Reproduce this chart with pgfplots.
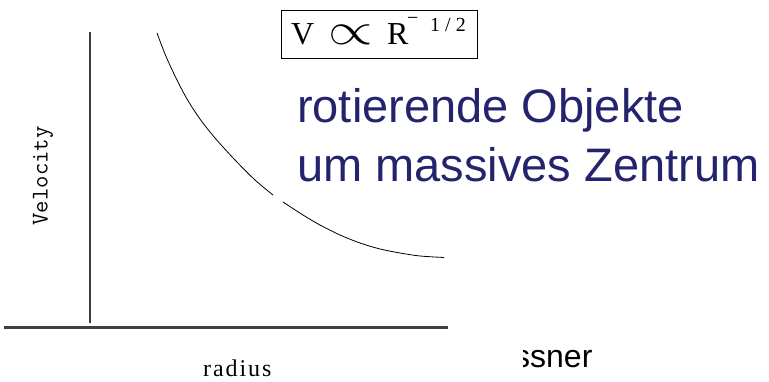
\documentclass[border=0pt]{standalone}
\usepackage{fontspec}
\setmainfont{Liberation Serif}
\newfontfamily\sansfont{Liberation Sans}
\newfontfamily\spacedserif{Liberation Serif}[LetterSpace=8]
\usepackage{graphicx}
\usepackage{pgfplots}
\pgfplotsset{compat=1.18}
\definecolor{titleblue}{RGB}{36,36,110}
\definecolor{axisgray}{RGB}{62,62,62}

\begin{document}
\begin{tikzpicture}
\begin{axis}[
  width=769pt, height=382pt, scale only axis,
  xmin=0, xmax=769, ymin=0, ymax=382,
  hide axis, clip=false,
]
% hand-drawn axes of the sketch
\addplot[axisgray, line width=1.6pt] coordinates {(90,350) (90,59)};
\addplot[axisgray, line width=3pt] coordinates {(4,54) (448,54)};

% velocity falling off with radius (the stroke has a small break)
\addplot[black, line width=0.8pt, smooth] coordinates {
  (157,349) (165,328) (175,306) (187,283) (200,263) (215,244)
  (235,222) (255,202) (273,187)};
\addplot[black, line width=0.8pt, smooth] coordinates {
  (283,180) (303,167) (320,157) (340,147) (360,139) (380,133)
  (400,129) (420,126) (444,124.5)};

% boxed proportionality
\addplot[black, line width=1pt, line join=miter] coordinates {
  (281,371) (477,371) (477,323) (281,323) (281,371)};
\node[inner sep=0pt, anchor=base west, font=\fontsize{32}{32}\selectfont]
  at (axis cs:291,337) {V};
\node[inner sep=0pt, anchor=center]
  at (axis cs:351,347) {\scalebox{2.3}[1.8]{\fontsize{24.88}{24.88}\selectfont$\propto$}};
\node[inner sep=0pt, anchor=base west, font=\fontsize{32}{32}\selectfont]
  at (axis cs:387,337) {R};
\node[inner sep=0pt, anchor=base west, font=\fontsize{20}{20}\selectfont]
  at (axis cs:407,357) {\textminus};
\node[inner sep=0pt, anchor=base west, font=\fontsize{20}{20}\selectfont]
  at (axis cs:430,350) {1 / 2};

% axis titles
\node[inner sep=0pt, rotate=90, font=\ttfamily\fontsize{24}{24}\selectfont]
  at (axis cs:43,206) {Velocity};
\node[inner sep=0pt, anchor=base west, font=\spacedserif\fontsize{24}{24}\selectfont]
  at (axis cs:203,5) {radius};

% caption
\node[inner sep=0pt, anchor=base west, text=titleblue, font=\sansfont\fontsize{47}{47}\selectfont]
  at (axis cs:297,259) {rotierende Objekte};
\node[inner sep=0pt, anchor=base west, text=titleblue, font=\sansfont\fontsize{47}{47}\selectfont]
  at (axis cs:297,200) {um massives Zentrum};

% credit line, partly covered by the sketch
\node[inner sep=0pt, anchor=base west, font=\sansfont\fontsize{32}{32}\selectfont]
  at (axis cs:514,14) {ssner};
\addplot[draw=none, fill=white] coordinates {(470,0) (523,0) (523,45) (470,45)} -- cycle;
\end{axis}
\pgfresetboundingbox
\path (current axis.south west) rectangle (current axis.north east);
\end{tikzpicture}
\end{document}
